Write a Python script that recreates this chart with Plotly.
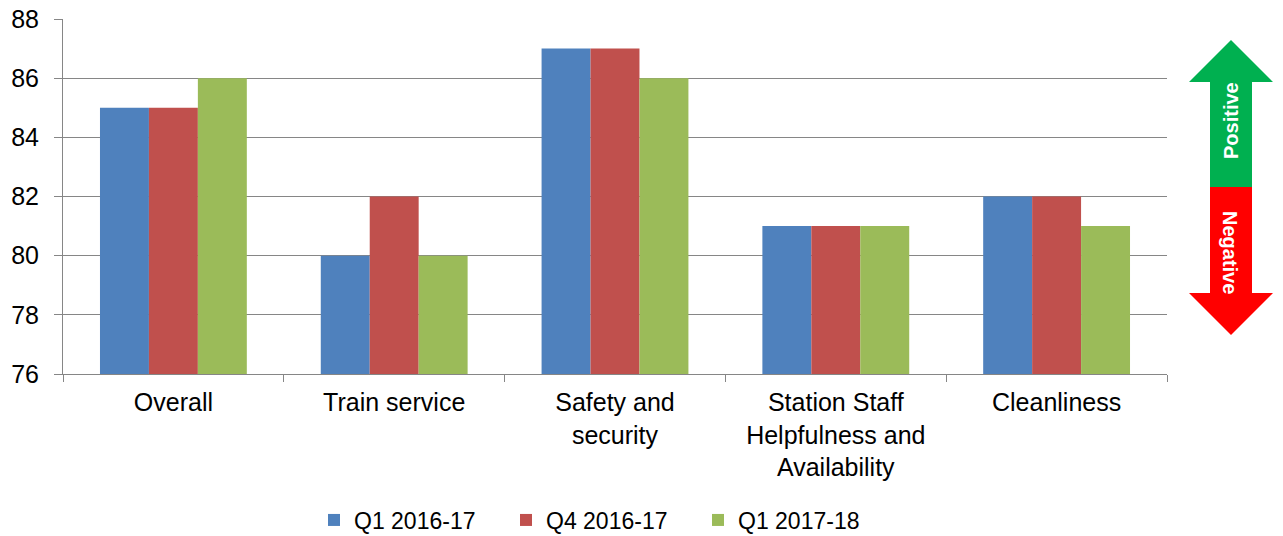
import plotly.graph_objects as go

# --- Data ---
categories = ["Overall", "Train service", "Safety and<br>security",
              "Station Staff<br>Helpfulness and<br>Availability", "Cleanliness"]
q1_2016 = [85, 80, 87, 81, 82]
q4_2016 = [85, 82, 87, 81, 82]
q1_2017 = [86, 80, 86, 81, 81]
series_names = ["Q1 2016-17", "Q4 2016-17", "Q1 2017-18"]
colors = ["#4F81BD", "#C0504D", "#9BBB59"]

# page has an 8px body margin, so the figure is shifted by 8px
OFF = 8
W, H = 1283 - OFF, 536 - OFF
L, R, T, B = 63 - OFF, 116, 19 - OFF, 162
FONT = "Liberation Sans, Arial, sans-serif"


# reference-pixel -> paper coords
def px(x):
    return (x - OFF - L) / (W - L - R)


def py(y):
    return (H - B - (y - OFF)) / (H - T - B)


fig = go.Figure()
for name, vals, c in zip(series_names, [q1_2016, q4_2016, q1_2017], colors):
    fig.add_trace(go.Bar(x=categories, y=vals, name=name,
                         marker=dict(color=c, line=dict(width=0))))

# --- Positive / negative arrow ---
def path(points):
    return "M " + " L ".join(f"{px(x)},{py(y)}" for x, y in points) + " Z"

green = [(1231, 40), (1273, 82), (1252, 82), (1252, 187), (1210, 187), (1210, 82), (1189, 82)]
red = [(1210, 187), (1252, 187), (1252, 293), (1273, 293), (1231, 335), (1189, 293), (1210, 293)]
shapes = [
    dict(type="path", xref="paper", yref="paper", path=path(green),
         fillcolor="#00B050", line=dict(width=0)),
    dict(type="path", xref="paper", yref="paper", path=path(red),
         fillcolor="#FF0000", line=dict(width=0)),
]
annotations = [
    dict(x=px(1231), y=py(121), xref="paper", yref="paper", text="<b>Positive</b>",
         xanchor="center", yanchor="middle",
         textangle=-90, showarrow=False, font=dict(color="white", size=20, family=FONT)),
    dict(x=px(1230), y=py(252), xref="paper", yref="paper", text="<b>Negative</b>",
         xanchor="center", yanchor="middle",
         textangle=90, showarrow=False, font=dict(color="white", size=20, family=FONT)),
]

fig.update_layout(
    width=W, height=H,
    margin=dict(l=L, r=R, t=T, b=B, autoexpand=False),
    paper_bgcolor="white", plot_bgcolor="white",
    font=dict(family=FONT, size=25, color="black"),
    barmode="group", bargap=0.335, bargroupgap=0,
    shapes=shapes, annotations=annotations,
    legend=dict(orientation="h", x=px(602), xanchor="center", y=py(520), yanchor="middle",
                font=dict(size=23), itemwidth=30, entrywidth=147, traceorder="normal"),
    showlegend=True,
)
fig.update_yaxes(range=[76, 88], dtick=2, showgrid=True, gridcolor="#868686", gridwidth=1,
                 showline=True, linecolor="#868686", linewidth=1, automargin=False,
                 ticks="outside", ticklen=8, tickcolor="#868686", zeroline=False,
                 ticklabelstandoff=10, ticklabeloverflow="allow", tickfont=dict(size=25))
fig.update_xaxes(showline=True, linecolor="#868686", linewidth=1, automargin=False,
                 ticks="outside", ticklen=7, tickcolor="#868686", tickson="boundaries",
                 ticklabelstandoff=6, tickfont=dict(size=25))

fig.write_html("out.html")
